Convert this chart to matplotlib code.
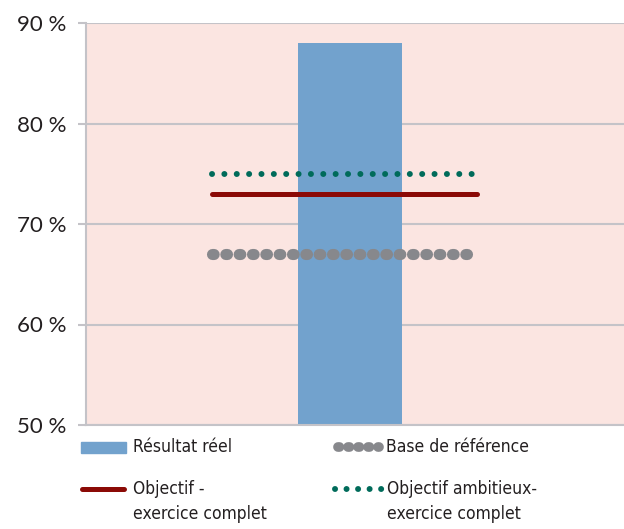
import matplotlib
matplotlib.use("Agg")
import matplotlib.pyplot as plt
from matplotlib.lines import Line2D
from matplotlib.patches import Rectangle

# values in %
categories = [""]
resultat = [88]
base_ref = 67
objectif = 73
objectif_ambitieux = 75
yticks = [50, 60, 70, 80, 90]
ytick_labels = ["50 %", "60 %", "70 %", "80 %", "90 %"]

blue = "#72a2cd"
gray = "#87888c"
red = "#8b0a06"
green = "#006b5a"
grid_c = "#c4c3c8"
bg = "#fbe5e1"

W, H = 624, 529
fig = plt.figure(figsize=(W / 100, H / 100), dpi=100)
ax = fig.add_axes([86 / W, 1 - 425 / H, 1 - 86 / W, (425 - 23) / H])
ax.set_facecolor(bg)

ax.bar([0], resultat, width=0.193, color=blue, zorder=2, bottom=0)
ax.set_xlim(-0.4907, 0.509)
ax.set_ylim(50, 90)

# reference lines across the bar
x0, x1 = -0.2565, 0.236
ax.plot([x0, x1], [base_ref] * 2, color=gray, lw=8, solid_capstyle="round",
        dash_capstyle="round", linestyle=(0, (0.15, 1.05)), zorder=3)
ax.plot([x0, x1], [objectif] * 2, color=red, lw=3.6, solid_capstyle="round", zorder=3)
ax.plot([x0, x1], [objectif_ambitieux] * 2, color=green, lw=4.3,
        dash_capstyle="round", linestyle=(0, (0.01, 2.06)), zorder=3)

ax.set_yticks(yticks)
ax.set_yticklabels(ytick_labels, fontsize=16, color="#231f20", family="Lato")
ax.set_xticks([])
ax.yaxis.grid(True, color=grid_c, lw=1.5, zorder=1)
ax.set_axisbelow(True)
ax.tick_params(axis="y", length=6, width=1.5, color=grid_c, pad=8)
for s in ["top", "right"]:
    ax.spines[s].set_visible(False)
for s in ["left", "bottom"]:
    ax.spines[s].set_color(grid_c)
    ax.spines[s].set_linewidth(1.5)

# legend drawn in figure pixels
def fx(px):
    return px / W

def fy(py):
    return 1 - py / H

tf = fig.transFigure
lfont = dict(fontsize=12.5, color="#231f20", family="DejaVu Sans", stretch="condensed",
             va="center", ha="left", transform=tf)

fig.add_artist(Rectangle((fx(81), fy(453)), fx(126) - fx(81), fy(442) - fy(453),
                         color=blue, transform=tf))
fig.text(fx(133), fy(447), "Résultat réel", **lfont)

fig.add_artist(Line2D([fx(338), fx(379.5)], [fy(447)] * 2, color=gray, lw=7,
                      dash_capstyle="round", linestyle=(0, (0.15, 0.88)), transform=tf))
fig.text(fx(386), fy(447), "Base de référence", **lfont)

fig.add_artist(Line2D([fx(82), fx(124)], [fy(489)] * 2, color=red, lw=3.6,
                      solid_capstyle="round", transform=tf))
fig.text(fx(133), fy(489), "Objectif -", **lfont)
fig.text(fx(133), fy(514), "exercice complet", **lfont)

fig.add_artist(Line2D([fx(335), fx(382)], [fy(489)] * 2, color=green, lw=4.3,
                      dash_capstyle="round", linestyle=(0, (0.01, 1.92)), transform=tf))
fig.text(fx(387), fy(489), "Objectif ambitieux-", **lfont)
fig.text(fx(387), fy(514), "exercice complet", **lfont)

fig.savefig("out.png", dpi=100)
